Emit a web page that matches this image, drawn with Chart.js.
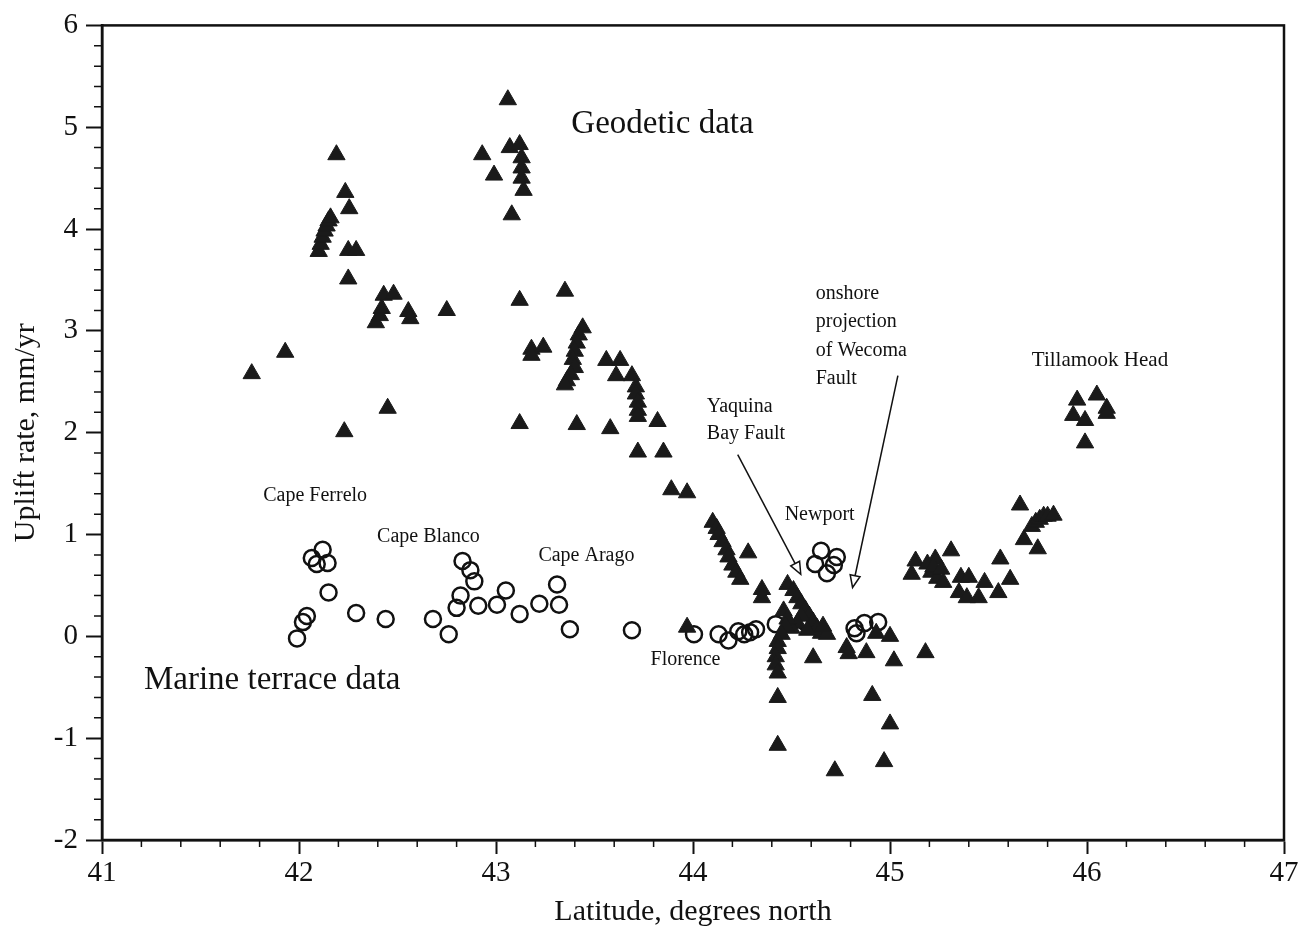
<!DOCTYPE html>
<html>
<head>
<meta charset="utf-8">
<script src="https://cdn.jsdelivr.net/npm/chart.js@4.4.0/dist/chart.umd.min.js"></script>
<style>
  html, body { margin: 0; padding: 0; background: #fff; }
  canvas { display: block; }
</style>
</head>
<body>
<canvas id="upliftChart" width="1304" height="936"></canvas>
<script>
// geodetic (levelling) uplift rates, filled triangles
const geoLat = [
  41.76, 41.93, 42.19, 42.235, 42.255, 42.10, 42.11, 42.12, 42.13, 42.14,
  42.15, 42.16, 42.25, 42.29, 42.25, 42.43, 42.48, 42.39, 42.41, 42.42,
  42.555, 42.565, 42.75, 42.45, 42.23, 43.06, 42.93, 42.99, 43.07, 43.12,
  43.13, 43.13, 43.13, 43.14, 43.08, 43.12, 43.35, 43.18, 43.24, 43.18,
  43.44, 43.42, 43.41, 43.40, 43.39, 43.40, 43.38, 43.36, 43.35, 43.56,
  43.63, 43.61, 43.69, 43.71, 43.71, 43.72, 43.72, 43.72, 43.12, 43.41,
  43.58, 43.82, 43.72, 43.85, 43.89, 43.97, 44.10, 44.12, 44.13, 44.15,
  44.17, 44.18, 44.20, 44.22, 44.24, 44.28, 44.35, 44.35, 43.97, 44.48,
  44.51, 44.53, 44.55, 44.57, 44.59, 44.61, 44.63, 44.65, 44.55, 44.53,
  44.50, 44.58, 44.46, 44.48, 44.47, 44.45, 44.43, 44.43, 44.42, 44.42,
  44.43, 44.61, 44.43, 44.43, 44.72, 44.91, 45.00, 44.97, 44.78, 44.79,
  44.88, 44.93, 45.00, 45.02, 45.18, 45.13, 45.11, 45.23, 45.31, 45.19,
  45.21, 45.24, 45.27, 45.22, 45.26, 45.36, 45.40, 45.35, 45.39, 45.45,
  45.48, 45.55, 45.61, 45.56, 45.66, 45.72, 45.74, 45.76, 45.78, 45.80,
  45.83, 45.68, 45.75, 45.95, 46.05, 45.93, 45.99, 46.10, 46.10, 45.99,
  44.68, 44.66
];
const geoRate = [
  2.58, 2.79, 4.73, 4.36, 4.20, 3.78, 3.85, 3.92, 3.98, 4.03,
  4.08, 4.11, 3.79, 3.79, 3.51, 3.35, 3.36, 3.08, 3.15, 3.22,
  3.19, 3.12, 3.20, 2.24, 2.01, 5.27, 4.73, 4.53, 4.80, 4.83,
  4.70, 4.60, 4.50, 4.38, 4.14, 3.30, 3.39, 2.82, 2.84, 2.76,
  3.03, 2.96, 2.88, 2.80, 2.72, 2.64, 2.57, 2.51, 2.47, 2.71,
  2.71, 2.56, 2.56, 2.45, 2.38, 2.30, 2.22, 2.16, 2.09, 2.08,
  2.04, 2.11, 1.81, 1.81, 1.44, 1.41, 1.12, 1.06, 1.00, 0.93,
  0.85, 0.78, 0.70, 0.63, 0.56, 0.82, 0.46, 0.38, 0.09, 0.51,
  0.45, 0.38, 0.32, 0.26, 0.20, 0.14, 0.08, 0.03, 0.20, 0.13,
  0.08, 0.06, 0.25, 0.17, 0.10, 0.02, -0.05, -0.12, -0.20, -0.28,
  -0.36, -0.21, -0.60, -1.07, -1.32, -0.58, -0.86, -1.23, -0.11, -0.17,
  -0.16, 0.03, 0.00, -0.24, -0.16, 0.74, 0.61, 0.76, 0.84, 0.71,
  0.63, 0.57, 0.53, 0.68, 0.66, 0.58, 0.58, 0.43, 0.38, 0.38,
  0.53, 0.43, 0.56, 0.76, 1.29, 1.08, 1.12, 1.15, 1.18, 1.18,
  1.19, 0.95, 0.86, 2.32, 2.37, 2.17, 2.12, 2.24, 2.19, 1.90,
  0.02, 0.10
];

// marine terrace uplift rates, open circles
const terraceLat = [
  42.12, 42.065, 42.09, 42.145, 42.15, 42.04, 42.02, 41.99, 42.29, 42.44,
  42.68, 42.76, 42.83, 42.87, 42.89, 42.82, 42.80, 42.91, 43.05, 43.005,
  43.12, 43.22, 43.31, 43.32, 43.375, 43.69, 44.005, 44.13, 44.18, 44.23,
  44.26, 44.29, 44.32, 44.42, 44.57, 44.65, 44.62, 44.68, 44.73, 44.715,
  44.82, 44.87, 44.94, 44.83
];
const terraceRate = [
  0.85, 0.77, 0.71, 0.72, 0.43, 0.20, 0.14, -0.02, 0.23, 0.17,
  0.17, 0.02, 0.74, 0.65, 0.54, 0.40, 0.28, 0.30, 0.45, 0.31,
  0.22, 0.32, 0.51, 0.31, 0.07, 0.06, 0.02, 0.02, -0.04, 0.05,
  0.02, 0.04, 0.07, 0.12, 0.14, 0.84, 0.71, 0.62, 0.78, 0.70,
  0.08, 0.13, 0.14, 0.03
];

// place names and notes, anchored in data units
const noteText = [
  "Geodetic data", "Marine terrace data", "Cape Ferrelo", "Cape Blanco",
  "Cape Arago", "Florence", "Newport", "Yaquina", "Bay Fault",
  "onshore", "projection", "of Wecoma", "Fault", "Tillamook Head"
];
const noteLat = [
  43.845, 41.864, 42.082, 42.657, 43.459, 43.962, 44.643, 44.07, 44.07,
  44.623, 44.623, 44.623, 44.623, 46.066
];
const noteRate = [
  5.03, -0.435, 1.384, 0.983, 0.787, -0.23, 1.198, 2.254, 1.99,
  3.36, 3.09, 2.80, 2.53, 2.714
];

// fault arrows: from label to tip
const arrowFromLat = [44.227, 45.04];
const arrowFromRate = [1.785, 2.56];
const arrowToLat = [44.547, 44.81];
const arrowToRate = [0.61, 0.48];

const serif = "'Liberation Serif', 'Times New Roman', serif";
const ink = "#111";

function noteFont(i) {
  if (i <= 1) return "33px " + serif;
  if (i === 13) return "21px " + serif;
  return "20px " + serif;
}

function noteAlign(i) {
  if (i >= 7 && i <= 12) return "left";
  return "center";
}

const paperDecor = {
  id: "paperDecor",
  afterDraw(chart) {
    const { ctx, chartArea: a } = chart;
    const x = chart.scales.x;
    const y = chart.scales.y;

    ctx.save();
    ctx.strokeStyle = ink;

    // frame
    ctx.lineWidth = 2.5;
    ctx.strokeRect(a.left, a.top, a.right - a.left, a.bottom - a.top);

    // minor ticks every 0.2
    ctx.lineWidth = 1.5;
    ctx.beginPath();
    for (let i = 1; i < 40; i++) {
      if (i % 5 === 0) continue;
      const py = y.getPixelForValue(-2 + i * 0.2);
      ctx.moveTo(a.left - 8, py);
      ctx.lineTo(a.left, py);
    }
    for (let i = 1; i < 30; i++) {
      if (i % 5 === 0) continue;
      const px = x.getPixelForValue(41 + i * 0.2);
      ctx.moveTo(px, a.bottom);
      ctx.lineTo(px, a.bottom + 7);
    }
    ctx.stroke();

    // notes
    ctx.fillStyle = ink;
    ctx.textBaseline = "middle";
    noteText.forEach((t, i) => {
      ctx.font = noteFont(i);
      ctx.textAlign = noteAlign(i);
      ctx.fillText(t, x.getPixelForValue(noteLat[i]), y.getPixelForValue(noteRate[i]));
    });

    // arrows with open heads
    ctx.lineWidth = 1.5;
    arrowFromLat.forEach((lat, i) => {
      const x0 = x.getPixelForValue(lat);
      const y0 = y.getPixelForValue(arrowFromRate[i]);
      const x1 = x.getPixelForValue(arrowToLat[i]);
      const y1 = y.getPixelForValue(arrowToRate[i]);
      const ang = Math.atan2(y1 - y0, x1 - x0);
      const len = 12;
      const half = 5;
      const bx = x1 - len * Math.cos(ang);
      const by = y1 - len * Math.sin(ang);

      ctx.beginPath();
      ctx.moveTo(x0, y0);
      ctx.lineTo(bx, by);
      ctx.stroke();

      ctx.beginPath();
      ctx.moveTo(x1, y1);
      ctx.lineTo(bx + half * Math.sin(ang), by - half * Math.cos(ang));
      ctx.lineTo(bx - half * Math.sin(ang), by + half * Math.cos(ang));
      ctx.closePath();
      ctx.fillStyle = "#fff";
      ctx.fill();
      ctx.stroke();
    });

    ctx.restore();
  }
};

const ctx = document.getElementById("upliftChart");

new Chart(ctx, {
  type: "scatter",
  data: {
    datasets: [
      {
        label: "Geodetic data",
        data: geoLat.map((lat, i) => ({ x: lat, y: geoRate[i] })),
        pointStyle: "triangle",
        pointRadius: 10,
        backgroundColor: "#1a1a1a",
        borderColor: "#1a1a1a",
        borderWidth: 1
      },
      {
        label: "Marine terrace data",
        data: terraceLat.map((lat, i) => ({ x: lat, y: terraceRate[i] })),
        pointStyle: "circle",
        pointRadius: 8,
        backgroundColor: "rgba(0,0,0,0)",
        borderColor: ink,
        borderWidth: 2.5
      }
    ]
  },
  options: {
    responsive: false,
    animation: false,
    events: [],

    layout: {
      padding: {
        top: 22,
        right: 20,
        left: 0,
        bottom: 0
      }
    },

    plugins: {
      legend: { display: false },
      tooltip: { enabled: false }
    },

    scales: {
      x: {
        type: "linear",
        min: 41,
        max: 47,
        ticks: {
          stepSize: 1,
          color: ink,
          padding: 2,
          font: { family: serif, size: 29 }
        },
        grid: {
          drawOnChartArea: false,
          tickLength: 14,
          tickColor: ink,
          tickWidth: 2
        },
        border: { color: ink, width: 2.5 },
        title: {
          display: true,
          text: "Latitude, degrees north",
          color: ink,
          font: { family: serif, size: 30 },
          padding: { top: 0, bottom: 6 }
        },
        afterFit(scale) {
          scale.height = 96;
        }
      },
      y: {
        min: -2,
        max: 6,
        ticks: {
          stepSize: 1,
          color: ink,
          padding: 8,
          font: { family: serif, size: 29 }
        },
        grid: {
          drawOnChartArea: false,
          tickLength: 16,
          tickColor: ink,
          tickWidth: 2
        },
        border: { color: ink, width: 2.5 },
        title: {
          display: true,
          text: "Uplift rate, mm/yr",
          color: ink,
          font: { family: serif, size: 30 },
          padding: { top: 8, bottom: 0 }
        },
        afterFit(scale) {
          scale.width = 102;
        }
      }
    }
  },
  plugins: [paperDecor]
});
</script>
</body>
</html>
